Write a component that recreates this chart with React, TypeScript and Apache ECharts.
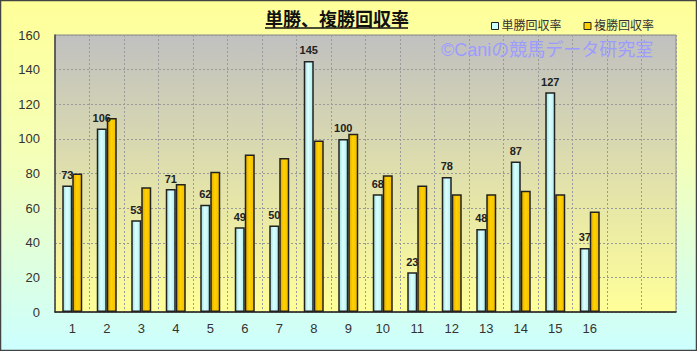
import React, { useEffect, useRef } from "react";
import * as echarts from "echarts";

const categories = ["1", "2", "3", "4", "5", "6", "7", "8", "9", "10", "11", "12", "13", "14", "15", "16", "", ""];
const tanshoValues = [73, 106, 53, 71, 62, 49, 50, 145, 100, 68, 23, 78, 48, 87, 127, 37];
const fukushoValues = [80, 112, 72, 74, 81, 91, 89, 99, 103, 79, 73, 68, 68, 70, 68, 58];
const seriesNames = ["単勝回収率", "複勝回収率"];
const titleText = "単勝、複勝回収率";
const watermarkText = "©Caniの競馬データ研究室";

const FONT = "'Liberation Sans', 'Noto Sans CJK JP', sans-serif";

export default function App() {
  const ref = useRef<HTMLDivElement>(null);
  useEffect(() => {
    document.body.style.margin = "0";
    const chart = echarts.init(ref.current!, null, { renderer: "svg" });
    const cyan = new echarts.graphic.LinearGradient(0, 0, 1, 0, [
      { offset: 0, color: "#9edede" },
      { offset: 0.45, color: "#dcffff" },
      { offset: 1, color: "#b0eeee" },
    ]);
    const gold = new echarts.graphic.LinearGradient(0, 0, 1, 0, [
      { offset: 0, color: "#e0a800" },
      { offset: 0.45, color: "#ffd200" },
      { offset: 1, color: "#f2bc00" },
    ]);
    chart.setOption({
      animation: false,
      backgroundColor: new echarts.graphic.LinearGradient(0, 0, 0, 1, [
        { offset: 0, color: "#ffff99" },
        { offset: 0.45, color: "#f4ffb8" },
        { offset: 1, color: "#ccffff" },
      ]),
      textStyle: { fontFamily: FONT },
      legend: {
        left: 486,
        top: 15,
        itemWidth: 7,
        itemHeight: 7,
        itemGap: 22,
        icon: "rect",
        textStyle: { fontSize: 12, color: "#333", fontFamily: FONT, padding: [0, 0, 0, -2] },
        data: [
          { name: seriesNames[0], itemStyle: { color: "#ccffff", borderColor: "#222", borderWidth: 1 } },
          { name: seriesNames[1], itemStyle: { color: "#ffcc00", borderColor: "#222", borderWidth: 1 } },
        ],
      },
      grid: {
        left: 55,
        right: 21,
        top: 35,
        bottom: 39,
        show: true,
        borderColor: "#8a8a8a",
        borderWidth: 1,
        backgroundColor: new echarts.graphic.LinearGradient(0, 0, 0, 1, [
          { offset: 0, color: "#c0c0c0" },
          { offset: 1, color: "#ffff99" },
        ]),
      },
      xAxis: {
        type: "category",
        data: categories,
        axisLine: { show: true, lineStyle: { color: "#222", width: 1.5 } },
        axisTick: { show: false },
        axisLabel: { color: "#333", fontSize: 13, margin: 10, fontFamily: FONT },
        splitLine: { show: true, lineStyle: { color: "#9a9a9a", type: [2, 2], width: 1 } },
      },
      yAxis: {
        type: "value",
        min: 0,
        max: 160,
        interval: 20,
        axisLine: { show: true, lineStyle: { color: "#444", width: 1.5 } },
        axisTick: { show: false },
        axisLabel: { color: "#333", fontSize: 13, margin: 15, fontFamily: FONT },
        splitLine: { show: true, lineStyle: { color: "#9a9a9a", type: [2, 2], width: 1 } },
      },
      series: [
        {
          name: seriesNames[0],
          type: "bar",
          data: tanshoValues,
          barWidth: 10,
          barGap: "0%",
          itemStyle: { color: cyan, borderColor: "#222", borderWidth: 1.5 },
          label: {
            show: true,
            position: "top",
            distance: 5,
            fontSize: 11,
            fontWeight: "bold",
            color: "#222",
            fontFamily: FONT,
          },
        },
        {
          name: seriesNames[1],
          type: "bar",
          data: fukushoValues,
          barWidth: 10,
          barGap: "0%",
          itemStyle: { color: gold, borderColor: "#222", borderWidth: 1.5 },
        },
      ],
      graphic: [
        {
          type: "text",
          left: 265,
          top: 9,
          style: {
            text: titleText,
            fontSize: 18,
            fontWeight: "bold",
            fill: "#111",
            fontFamily: "'Noto Sans CJK JP', sans-serif",
          },
        },
        {
          type: "line",
          shape: { x1: 265, y1: 28, x2: 408, y2: 28 },
          style: { stroke: "#111", lineWidth: 1.5 },
        },
        {
          type: "text",
          left: 441,
          top: 41,
          z: 10,
          style: {
            text: watermarkText,
            fontSize: 18,
            fill: "#9c9cff",
            fontFamily: FONT,
          },
        },
        {
          type: "rect",
          shape: { x: 0.5, y: 0.5, width: 696, height: 350 },
          style: { fill: "none", stroke: "#444", lineWidth: 1.5 },
          z: 20,
        },
      ],
    });
    return () => chart.dispose();
  }, []);
  return <div ref={ref} style={{ width: 697, height: 351 }} />;
}
